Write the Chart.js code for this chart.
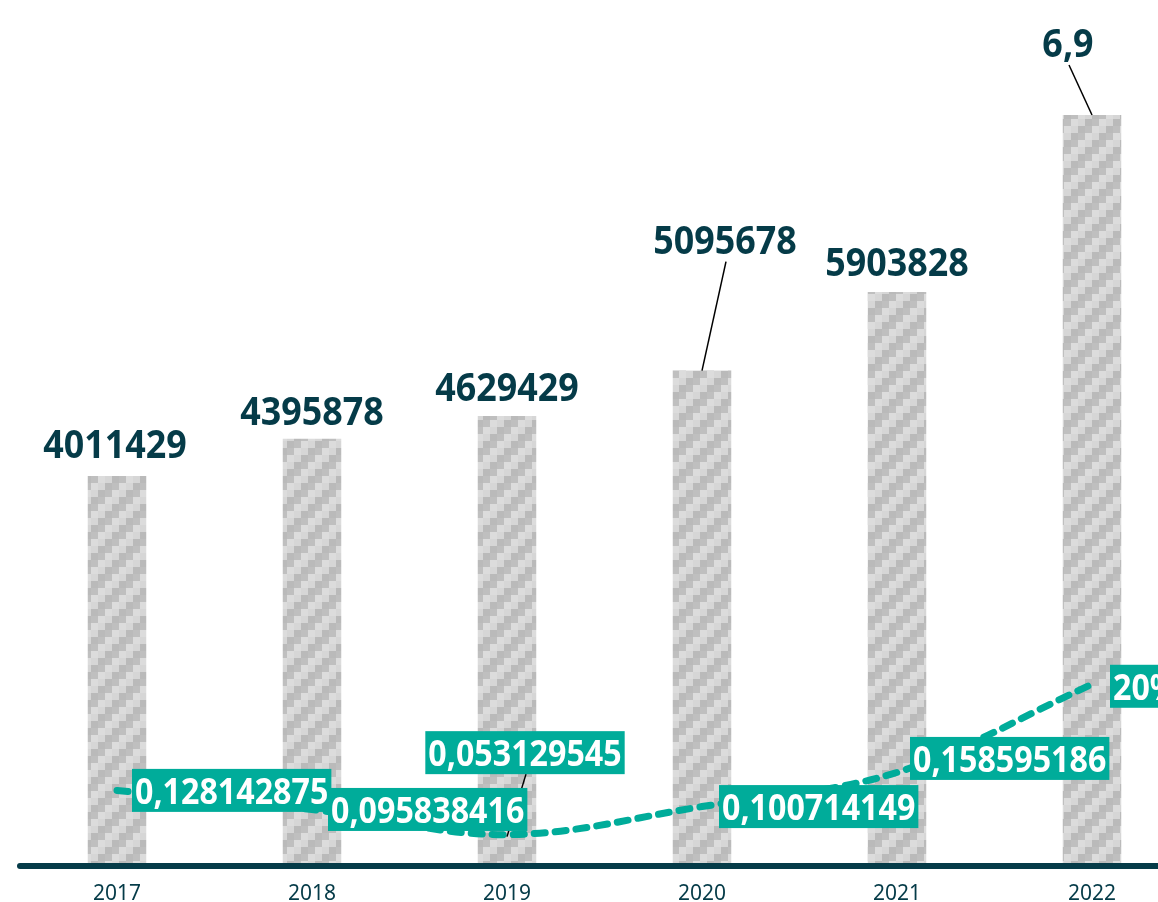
<!DOCTYPE html>
<html><head><meta charset="utf-8">
<script src="https://cdn.jsdelivr.net/npm/chart.js@4.4.0/dist/chart.umd.min.js"></script>
<style>html,body{margin:0;padding:0;overflow:hidden;background:#fff;width:1158px;height:902px}canvas{display:block}</style>
</head><body>
<canvas id="c" width="1192" height="902"></canvas>
<script>
// ---- data ----
const categories = ['2017', '2018', '2019', '2020', '2021', '2022'];
const totalValues = [4011429, 4395878, 4629429, 5095678, 5903828, 7725000];
const totalLabels = ['4011429', '4395878', '4629429', '5095678', '5903828', '6,9'];
const growthValues = [0.128142875, 0.095838416, 0.053129545, 0.100714149, 0.158595186, 0.308];
const growthLabels = ['0,128142875', '0,095838416', '0,053129545', '0,100714149', '0,158595186', '20%'];

// ---- label placement (offsets from the drawn elements) ----
const barLabelPlacement = [
  {dx: -2, dy: -18}, {dx: 0, dy: -14}, {dx: 0, dy: -15},
  {dx: 23, dy: -117, leader: true}, {dx: 0, dy: -16}, {dx: -24, dy: -58, leader: true}
];
const lineLabelPlacement = [
  {mode: 'right', dx: 15, dy: 0}, {mode: 'right', dx: 16, dy: 0},
  {mode: 'center', dx: 18, dy: -82, leader: true}, {mode: 'right', dx: 17, dy: 0},
  {mode: 'right', dx: 13, dy: -14}, {mode: 'right', dx: 18, dy: 2}
];

const DARK = '#053b48';
const TEAL = '#00ac9a';
const FONT = '"Noto Sans", "Open Sans", sans-serif';

function makePattern() {
  const cell = 7, n = 4;
  const p = document.createElement('canvas');
  p.width = cell * n; p.height = cell * n;
  const g = p.getContext('2d');
  const tones = ['#bababa', '#bfbfbf', '#dcdcdc', '#d6d6d6'];
  for (let r = 0; r < n; r++) {
    for (let c = 0; c < n; c++) {
      g.fillStyle = tones[(c + r) % n];
      g.fillRect(c * cell, r * cell, cell, cell);
    }
  }
  return document.getElementById('c').getContext('2d').createPattern(p, 'repeat');
}

function drawScaledText(ctx, text, x, y, font, color, sx, align) {
  ctx.save();
  ctx.font = font;
  ctx.fillStyle = color;
  ctx.textBaseline = 'alphabetic';
  ctx.textAlign = 'left';
  const w = ctx.measureText(text).width * sx;
  const left = align === 'center' ? x - w / 2 : x;
  ctx.translate(left, y);
  ctx.scale(sx, 1);
  ctx.fillText(text, 0, 0);
  ctx.restore();
  return w;
}
function measureScaled(ctx, text, font, sx) {
  ctx.save(); ctx.font = font;
  const w = ctx.measureText(text).width * sx;
  ctx.restore();
  return w;
}
function strokeLeader(ctx, x1, y1, x2, y2) {
  ctx.save();
  ctx.strokeStyle = '#000';
  ctx.lineWidth = 1.5;
  ctx.beginPath();
  ctx.moveTo(x1, y1);
  ctx.lineTo(x2, y2);
  ctx.stroke();
  ctx.restore();
}

const overlayPlugin = {
  id: 'overlay',
  afterDatasetsDraw(chart) {
    const ctx = chart.ctx;
    const area = chart.chartArea;
    // axis line
    ctx.save();
    ctx.strokeStyle = DARK;
    ctx.lineWidth = 6;
    ctx.lineCap = 'round';
    ctx.beginPath();
    ctx.moveTo(20, area.bottom);
    ctx.lineTo(chart.width + 10, area.bottom);
    ctx.stroke();
    ctx.restore();

    // bar labels
    const barMeta = chart.getDatasetMeta(1);
    const barFont = 'bold 39px ' + FONT;
    barMeta.data.forEach((bar, i) => {
      const pl = barLabelPlacement[i];
      const x = bar.x + pl.dx;
      const y = bar.y + pl.dy;
      if (pl.leader) strokeLeader(ctx, x + 1, y + 8, bar.x, bar.y);
      drawScaledText(ctx, totalLabels[i], x, y, barFont, DARK, 0.92, 'center');
    });

    // line labels
    const lineMeta = chart.getDatasetMeta(0);
    const lblFont = 'bold 35px ' + FONT;
    const boxH = 43;
    const boxes = lineMeta.data.map((pt, i) => {
      const pl = lineLabelPlacement[i];
      const tw = measureScaled(ctx, growthLabels[i], lblFont, 0.92);
      const bw = tw + 6;
      const cy = pt.y + pl.dy;
      const left = pl.mode === 'center' ? pt.x + pl.dx - bw / 2 : pt.x + pl.dx;
      return {pt, pl, bw, cy, left, top: cy - boxH / 2};
    });
    boxes.forEach(b => {
      if (b.pl.leader) strokeLeader(ctx, b.pt.x, b.pt.y + 2, b.left + b.bw / 2 + 1, b.top + boxH);
    });
    boxes.forEach((b, i) => {
      ctx.save();
      ctx.fillStyle = TEAL;
      ctx.fillRect(b.left, b.top, b.bw, boxH);
      ctx.restore();
      drawScaledText(ctx, growthLabels[i], b.left + 3, b.cy + 13.5, lblFont, '#ffffff', 0.92, 'left');
    });
  }
};

const chart = new Chart(document.getElementById('c'), {
  data: {
    labels: categories,
    datasets: [
      {
        type: 'line',
        data: growthValues,
        yAxisID: 'y2',
        borderColor: TEAL,
        borderWidth: 7,
        borderDash: [11, 10],
        borderCapStyle: 'round',
        pointRadius: 0,
        tension: 0.35,
        fill: false,
        order: 0
      },
      {
        type: 'bar',
        data: totalValues,
        yAxisID: 'y',
        backgroundColor: makePattern(),
        borderWidth: 0,
        barPercentage: 0.3,
        categoryPercentage: 1.0,
        order: 1
      }
    ]
  },
  options: {
    responsive: false,
    animation: false,
    devicePixelRatio: 1,
    layout: {padding: {top: 6, left: 19.5, right: 2.5, bottom: 0}},
    plugins: {legend: {display: false}, tooltip: {enabled: false}},
    scales: {
      x: {
        grid: {display: false, drawTicks: false},
        border: {display: false},
        ticks: {color: DARK, font: {family: FONT, size: 21}, padding: 15},
        afterFit: s => { s.height = 36; }
      },
      y: {display: false, min: 0, max: 8846000},
      y2: {display: false, min: 0, max: 1.4576, position: 'right'}
    }
  },
  plugins: [overlayPlugin]
});
</script>
</body></html>
